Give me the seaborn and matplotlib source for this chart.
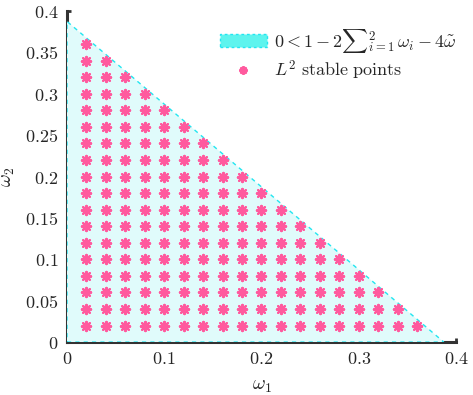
import matplotlib
matplotlib.use("Agg")
import matplotlib.pyplot as plt
import numpy as np
import pandas as pd
import seaborn as sns
from matplotlib.patches import Patch
from matplotlib.lines import Line2D

# region boundary: w1 + w2 < bound
bound = 0.3875
# grid of tested points and the largest stable w1 in each row
x_grid = [0.02, 0.04, 0.06, 0.08, 0.10, 0.12, 0.14, 0.16, 0.18,
          0.20, 0.22, 0.24, 0.26, 0.28, 0.30, 0.32, 0.34, 0.36]
y_rows = [0.02, 0.04, 0.06, 0.08, 0.10, 0.12, 0.14, 0.16, 0.18,
          0.20, 0.22, 0.24, 0.26, 0.28, 0.30, 0.32, 0.34, 0.36]
row_max_x = [0.36, 0.34, 0.32, 0.30, 0.28, 0.26, 0.24, 0.22, 0.20,
             0.18, 0.16, 0.14, 0.12, 0.10, 0.08, 0.06, 0.04, 0.02]
x_ticks = [0, 0.1, 0.2, 0.3, 0.4]
y_ticks = [0, 0.05, 0.1, 0.15, 0.2, 0.25, 0.3, 0.35, 0.4]

rows = []
for y, xm in zip(y_rows, row_max_x):
    for x in x_grid:
        if x <= xm + 1e-9:
            rows.append({"w1": x, "w2": y})
pts = pd.DataFrame(rows)

sns.set_style("ticks")
plt.rcParams["mathtext.fontset"] = "cm"
plt.rcParams["font.family"] = ["DejaVu Serif"]

fig = plt.figure(figsize=(4.73, 3.95), dpi=100)
ax = fig.add_axes([0.1416, 0.134, 0.8224, 0.838])

fill_c = "#e0fbfb"
edge_c = "#22e6f0"
star_c = "#ff5a9e"
star = (8, 2, 0)

ax.fill([0, bound, 0], [0, 0, bound], facecolor=fill_c, edgecolor=edge_c,
        linestyle=(0, (3, 3)), linewidth=1.0, zorder=1)

sns.scatterplot(data=pts, x="w1", y="w2", ax=ax, marker=star,
                s=44, color=star_c, edgecolor=star_c, linewidth=1.6, zorder=3)

ax.set_xlim(0, 0.4)
ax.set_ylim(0, 0.4)
ax.set_xticks(x_ticks)
ax.set_yticks(y_ticks)
ax.set_xticklabels([f"${t:g}$" for t in x_ticks], fontsize=13)
ax.set_yticklabels([f"${t:g}$" for t in y_ticks], fontsize=13)
ax.tick_params(direction="in", length=3, width=2, color="#333333", pad=6)
for s in ["top", "right"]:
    ax.spines[s].set_visible(False)
for s in ["left", "bottom"]:
    ax.spines[s].set_color("#333333")
    ax.spines[s].set_linewidth(2.2)
    ax.spines[s].set_zorder(0.5)

ax.set_xlabel(r"$\omega_1$", fontsize=14, labelpad=6)
ax.set_ylabel(r"$\omega_2$", fontsize=14, labelpad=6)

handles = [
    Patch(facecolor="#5ef4ee", edgecolor=edge_c, linestyle=(0, (2, 2)), linewidth=1.0),
    Line2D([], [], linestyle="none", marker=star, markersize=6,
           color=star_c, markeredgewidth=1.6),
]
labels = [r"$0<1-2{\sum}_{i=1}^{2}\,\omega_i-4\tilde{\omega}$",
          r"$L^2\ \mathrm{stable\ points}$"]
ax.legend(handles, labels, loc="upper right", bbox_to_anchor=(1.02, 0.975),
          frameon=False, fontsize=13, handlelength=2.6, handletextpad=0.4,
          borderaxespad=0.0, labelspacing=0.2)

ax.set_facecolor("white")
fig.savefig("out.png", dpi=100)
